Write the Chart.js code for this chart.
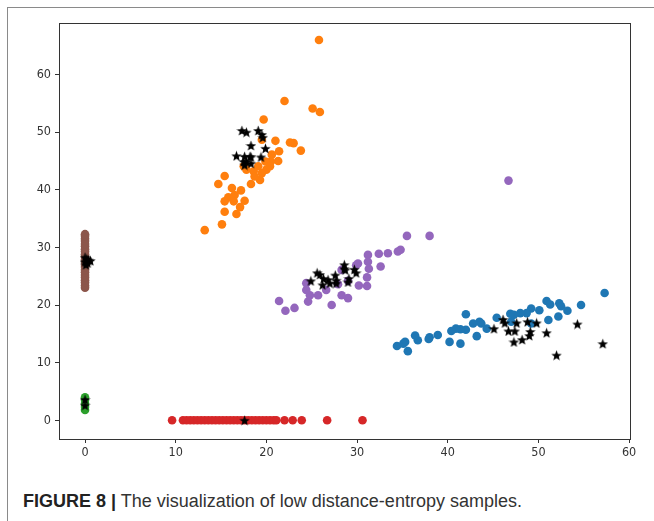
<!DOCTYPE html>
<html>
<head>
<meta charset="utf-8">
<script src="https://cdn.jsdelivr.net/npm/chart.js@4/dist/chart.umd.min.js"></script>
<style>
    html, body { margin: 0; padding: 0; background: #fff; }
    body { width: 654px; height: 521px; position: relative; overflow: hidden; }
    .frame { position: absolute; left: 7px; top: 7px; width: 660px; height: 530px; border: 1px solid #8a8a8a; box-sizing: border-box; }
    .plot { position: absolute; left: 0; top: 0; width: 654px; height: 470px; }
    .caption { position: absolute; left: 23px; top: 491px; font-family: "Liberation Sans", Arial, sans-serif; font-size: 18px; color: #333; white-space: nowrap; }
    .caption b { color: #222; }
</style>
</head>
<body>
<div class="frame"></div>
<div class="plot"><canvas id="chart"></canvas></div>
<div class="caption"><b>FIGURE 8 |</b> The visualization of low distance-entropy samples.</div>

<script>
// axis ticks
const xTicks = [0, 10, 20, 30, 40, 50, 60];
const yTicks = [0, 10, 20, 30, 40, 50, 60];

// cluster 1 (blue)
const blueX = [57.3, 54.7, 52.3, 52.5, 53.2, 50.9, 51.3, 52.2, 51.1, 50.1, 49.2, 48.7, 48.0, 47.3, 46.9, 47.0, 49.2, 45.4, 44.3, 43.7, 43.5, 42.8, 43.2, 42.0, 42.0, 41.4, 40.9, 40.4, 40.2, 41.4, 38.9, 38.0, 37.9, 36.7, 36.4, 35.3, 34.4, 35.1, 35.6];
const blueY = [22.1, 20.0, 20.3, 19.8, 19.0, 20.7, 20.1, 18.0, 17.4, 19.1, 19.4, 18.6, 18.6, 18.3, 18.5, 17.1, 16.8, 17.8, 15.9, 16.8, 17.1, 16.8, 14.6, 18.4, 15.7, 15.8, 15.9, 15.5, 13.6, 13.3, 14.8, 14.4, 14.1, 13.9, 14.7, 13.6, 12.9, 13.3, 12.0];

// cluster 2 (orange)
const orangeX = [25.8, 22.0, 25.1, 25.9, 19.7, 19.5, 21.0, 23.0, 23.8, 21.4, 21.3, 20.5, 20.0, 19.1, 17.5, 17.8, 19.3, 15.4, 14.7, 18.3, 16.2, 17.2, 16.5, 15.8, 15.4, 16.4, 17.6, 17.1, 15.4, 16.7, 15.1, 13.2, 20.6, 19.9, 18.6, 19.5, 20.4, 18.7, 22.6];
const orangeY = [66.0, 55.4, 54.1, 53.5, 52.2, 48.7, 48.5, 48.1, 46.8, 46.7, 45.0, 44.9, 43.5, 44.1, 44.1, 43.5, 41.7, 42.4, 41.0, 41.0, 40.3, 39.9, 39.1, 38.7, 38.0, 38.0, 38.1, 37.0, 36.2, 35.8, 34.0, 33.0, 46.1, 44.9, 43.2, 42.9, 44.1, 42.3, 48.2];

// cluster 3 (green)
const greenX = [0, 0, 0, 0, 0];
const greenY = [1.8, 2.3, 2.9, 3.5, 4.0];

// cluster 4 (red)
const redX = [9.6, 10.8, 11.2, 11.6, 12.0, 12.4, 12.8, 13.2, 13.6, 14.0, 14.4, 14.8, 15.2, 15.6, 16.0, 16.4, 16.8, 17.2, 17.6, 18.0, 18.4, 18.8, 19.2, 19.6, 20.0, 20.4, 20.8, 21.1, 22.0, 22.9, 23.9, 26.7, 30.6];
const redY = [0, 0, 0, 0, 0, 0, 0, 0, 0, 0, 0, 0, 0, 0, 0, 0, 0, 0, 0, 0, 0, 0, 0, 0, 0, 0, 0, 0, 0, 0, 0, 0, 0];

// cluster 5 (purple)
const purpleX = [35.5, 38.0, 34.8, 34.5, 33.4, 32.4, 31.2, 31.2, 30.1, 32.6, 31.3, 31.1, 31.1, 28.3, 30.2, 29.0, 28.3, 27.2, 26.6, 25.7, 24.8, 24.4, 24.4, 24.6, 21.4, 23.1, 22.1, 27.9, 29.0, 29.9, 46.7];
const purpleY = [32.0, 32.0, 29.6, 29.3, 29.0, 28.9, 28.7, 27.5, 27.2, 26.7, 26.3, 24.8, 23.3, 26.1, 23.4, 21.2, 21.7, 20.0, 22.6, 21.7, 21.7, 22.6, 23.8, 20.6, 20.7, 19.5, 19.0, 23.6, 24.2, 26.9, 41.6];

// cluster 6 (brown)
const brownX = [0, 0, 0, 0, 0, 0, 0, 0, 0, 0, 0, 0, 0, 0, 0, 0, 0, 0, 0, 0, 0, 0];
const brownY = [23.0, 23.4, 23.9, 24.3, 24.8, 25.2, 25.7, 26.1, 26.6, 27.0, 27.5, 27.9, 28.4, 28.8, 29.3, 29.7, 30.2, 30.6, 31.1, 31.5, 32.0, 32.3];

// low distance-entropy samples (black stars)
const starX = [
    57.1, 52.0, 54.3, 50.9, 49.8, 48.8, 49.1, 49.0, 48.2, 47.3, 47.4, 46.7, 47.6, 46.1, 46.3, 45.1,
    17.3, 17.8, 19.1, 19.5, 19.6, 18.3, 19.9, 16.7, 17.6, 18.2, 18.3, 19.4, 17.5, 17.8, 18.3, 17.6,
    24.9, 25.6, 25.9, 26.3, 26.8, 26.2, 27.6, 27.7, 27.7, 28.6, 28.7, 28.6, 29.7, 29.9, 29.1, 29.0, 27.0,
    0, 0.2, 0.4, 0.1, 0.6, 0, 0.3,
    0, 0,
    17.6
];
const starY = [
    13.3, 11.3, 16.7, 15.2, 16.9, 17.1, 15.4, 14.7, 14.0, 13.6, 15.5, 15.5, 16.9, 17.5, 16.9, 15.9,
    50.3, 50.0, 50.3, 49.6, 49.1, 47.7, 47.2, 45.9, 45.8, 45.8, 45.7, 45.7, 44.9, 44.9, 44.6, 44.3,
    24.2, 25.6, 25.3, 24.6, 24.4, 23.5, 25.2, 23.8, 24.3, 27.0, 26.1, 26.3, 26.2, 25.6, 24.6, 24.0, 23.8,
    27.5, 28.0, 27.8, 27.0, 27.7, 28.3, 27.3,
    3.6, 2.6,
    0
];

const toPoints = (xs, ys) => xs.map((x, i) => ({ x: x, y: ys[i] }));

// filled five-point star marker (matplotlib '*')
const makeStar = (size) => {
    const c = document.createElement('canvas');
    c.width = size; c.height = size;
    const g = c.getContext('2d');
    const r = size / 2, ri = r * 0.42;
    g.beginPath();
    for (let i = 0; i < 10; i++) {
        const rad = i % 2 === 0 ? r : ri;
        const ang = -Math.PI / 2 + i * Math.PI / 5;
        const px = r + rad * Math.cos(ang), py = r + 0.6 + rad * Math.sin(ang);
        i === 0 ? g.moveTo(px, py) : g.lineTo(px, py);
    }
    g.closePath();
    g.fillStyle = '#000';
    g.fill();
    return c;
};
const starImg = makeStar(11);

const cluster = (xs, ys, color) => ({
    data: toPoints(xs, ys),
    backgroundColor: color,
    borderColor: color,
    borderWidth: 0,
    pointRadius: 4.3,
    order: 1
});

// axes box like matplotlib
const boxPlugin = {
    id: 'box',
    afterDraw(chart) {
        const { ctx, chartArea: a } = chart;
        ctx.save();
        ctx.strokeStyle = '#333';
        ctx.lineWidth = 1;
        ctx.strokeRect(Math.round(a.left) + 0.5, Math.round(a.top) + 0.5, Math.round(a.right - a.left), Math.round(a.bottom - a.top));
        ctx.restore();
    }
};

const tickFont = { family: '"DejaVu Sans Condensed", "DejaVu Sans"', size: 12.5 };

new Chart(document.getElementById('chart'), {
    type: 'scatter',
    data: {
        datasets: [
            {
                data: toPoints(starX, starY),
                pointStyle: starImg,
                pointRadius: 5,
                order: 0
            },
            cluster(blueX, blueY, '#1f77b4'),
            cluster(orangeX, orangeY, '#ff7f0e'),
            cluster(greenX, greenY, '#2ca02c'),
            cluster(redX, redY, '#d62728'),
            cluster(purpleX, purpleY, '#9467bd'),
            cluster(brownX, brownY, '#8c564b')
        ]
    },
    options: {
        responsive: true,
        maintainAspectRatio: false,
        animation: false,
        layout: { padding: { left: 0, right: 24, top: 23, bottom: 0 } },
        plugins: { legend: { display: false }, tooltip: { enabled: false } },
        scales: {
            x: {
                type: 'linear',
                min: -2.87,
                max: 60.1,
                afterBuildTicks: (s) => { s.ticks = xTicks.map(v => ({ value: v })); },
                afterFit: (s) => { s.height = 31; },
                grid: { drawOnChartArea: false, drawTicks: true, tickLength: 4, color: '#333' },
                border: { display: false },
                ticks: { color: '#333', font: tickFont, padding: 2, maxRotation: 0 }
            },
            y: {
                type: 'linear',
                min: -3.25,
                max: 68.95,
                afterBuildTicks: (s) => { s.ticks = yTicks.map(v => ({ value: v })); },
                afterFit: (s) => { s.width = 59; },
                grid: { drawOnChartArea: false, drawTicks: true, tickLength: 4, color: '#333' },
                border: { display: false },
                ticks: { color: '#333', font: tickFont, padding: 4 }
            }
        }
    },
    plugins: [boxPlugin]
});
</script>
</body>
</html>
